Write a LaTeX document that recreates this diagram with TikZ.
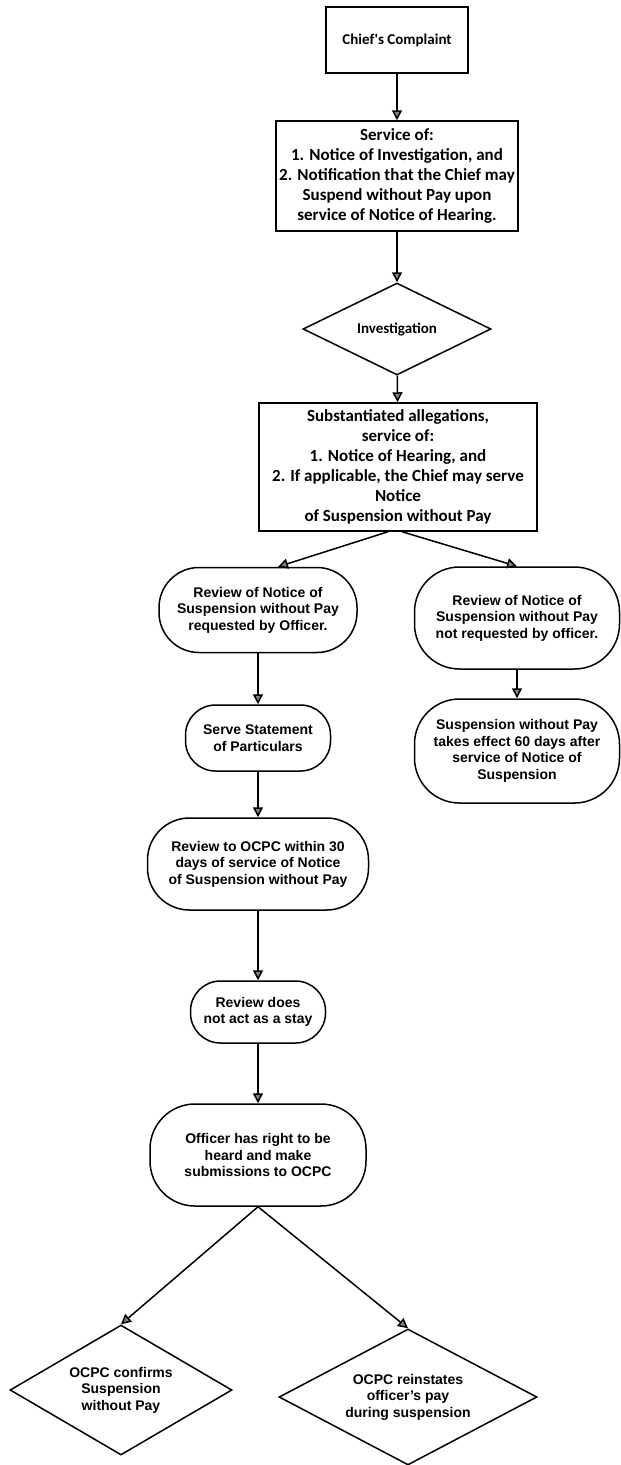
\documentclass[tikz,border=0pt]{standalone}
\usepackage{fontspec}
\setmainfont{Liberation Sans}
\newfontfamily\calfont{Carlito}
\usepackage{tikz}
\usetikzlibrary{arrows.meta, positioning, shapes.geometric}

\begin{document}
\begin{tikzpicture}[x=1pt, y=1pt, line width=1.5pt,
    box/.style={draw, rectangle, align=center, inner sep=1pt,
        font=\calfont\bfseries\fontsize{17}{20}\selectfont},
    stadium/.style={draw, rectangle, rounded corners=30pt, align=center, inner sep=1pt,
        font=\bfseries\fontsize{14}{16.5}\selectfont},
    decision/.style={draw, diamond, aspect=1.8, align=center, inner sep=0pt,
        font=\bfseries\fontsize{14}{16.5}\selectfont},
    flow/.style={-{Triangle[width=10pt, length=10pt, fill=gray]}}]
            \useasboundingbox (0,0) rectangle (621,-1465);

            % upper part, served by the Chief
            \node[box, minimum width=142, minimum height=66, font=\calfont\bfseries\fontsize{15}{18}\selectfont] (complaint) at (397,-40) {Chief's Complaint};
            \node[box, minimum width=242, minimum height=110] (service) at (397,-176) {Service of:\\1. Notice of Investigation, and\\2. Notification that the Chief may\\Suspend without Pay upon\\service of Notice of Hearing.};
            \node[decision, minimum width=188, minimum height=92, font=\calfont\bfseries\fontsize{15}{18}\selectfont] (invest) at (397,-329) {Investigation};
            \node[box, minimum width=278, minimum height=128] (subst) at (398,-467) {Substantiated allegations,\\service of:\\1. Notice of Hearing, and\\2. If applicable, the Chief may serve\\Notice\\of Suspension without Pay};

            % review requested or not
            \node[stadium, rounded corners=40pt, minimum width=198, minimum height=85] (reqrev) at (258,-610) {Review of Notice of\\Suspension without Pay\\requested by Officer.};
            \node[stadium, rounded corners=45pt, minimum width=205, minimum height=102] (norev) at (517,-618) {Review of Notice of\\Suspension without Pay\\not requested by officer.};
            \node[stadium, minimum width=145, minimum height=66] (serve) at (258,-738) {Serve Statement\\of Particulars};
            \node[stadium, rounded corners=45pt, minimum width=205, minimum height=104] (nopay) at (517,-751) {Suspension without Pay\\takes effect 60 days after\\service of Notice of\\Suspension};
            \node[stadium, rounded corners=42pt, minimum width=221, minimum height=92] (ocpcrev) at (258,-864) {Review to OCPC within 30\\days of service of Notice\\of Suspension without Pay};
            \node[stadium, minimum width=135, minimum height=62] (nostay) at (258,-1012) {Review does\\not act as a stay};
            \node[stadium, rounded corners=45pt, minimum width=216, minimum height=102] (heard) at (258,-1155) {Officer has right to be\\heard and make\\submissions to OCPC};

            % outcomes
            \node[decision, minimum width=222, minimum height=130] (confirm) at (121,-1390) {OCPC confirms\\Suspension\\without Pay};
            \node[decision, minimum width=258, minimum height=136] (reinstate) at (408,-1397) {OCPC reinstates\\officer's pay\\during suspension};

            \draw[flow] (complaint) -- (service);
            \draw[flow] (service) -- (invest);
            \draw[flow] (invest) -- (subst);
            \draw[flow] ([xshift=-10pt]subst.south) -- ([xshift=20pt]reqrev.north);
            \draw[flow] ([xshift=4pt]subst.south) -- (norev.north);
            \draw[flow] (reqrev) -- (serve);
            \draw[flow] (norev) -- (nopay);
            \draw[flow] (serve) -- (ocpcrev);
            \draw[flow] (ocpcrev) -- (nostay);
            \draw[flow] (nostay) -- (heard);
            \draw[flow] (heard.south) -- (confirm.north);
            \draw[flow] (heard.south) -- (reinstate.north);
        \end{tikzpicture}
\end{document}
